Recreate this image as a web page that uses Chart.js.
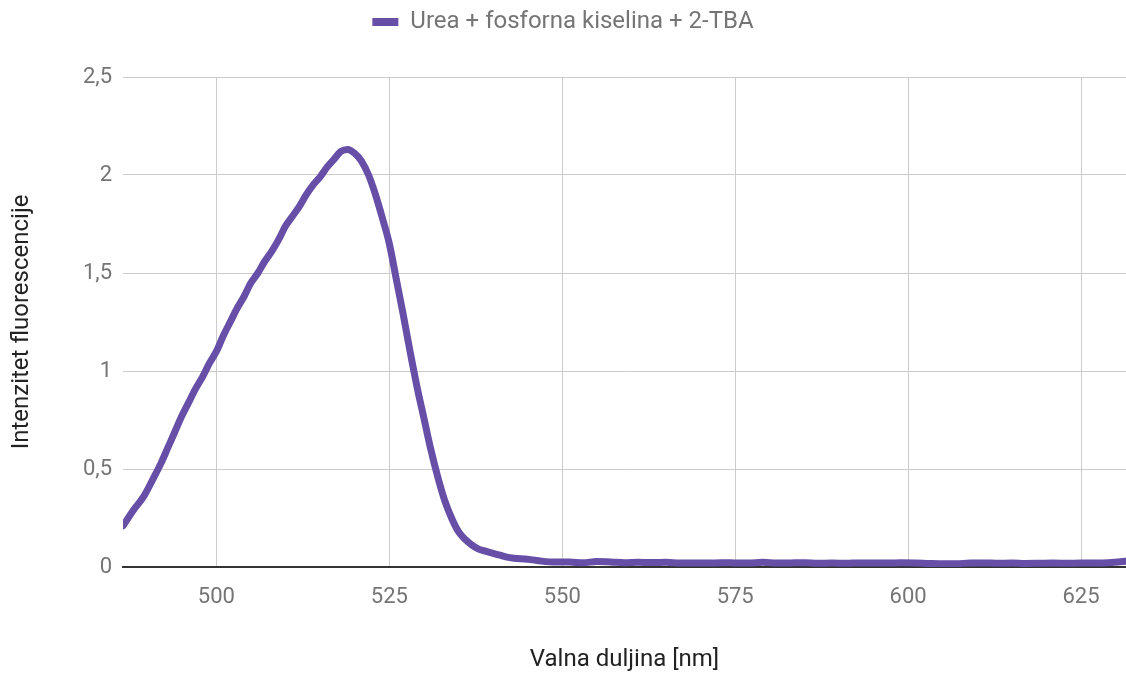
<!DOCTYPE html>
<html lang="hr">
<head>
  <meta charset="UTF-8">
  <title>Intenzitet fluorescencije</title>
  <style>
    html, body { margin: 0; padding: 0; background: #fff; }
    .chart-container { width: 1126px; height: 675px; }
  </style>
  <script src="https://cdn.jsdelivr.net/npm/chart.js"></script>
</head>
<body>
  <div class="chart-container">
    <canvas id="spectrumChart"></canvas>
  </div>

  <script>
    // wavelengths [nm] and measured intensity
    const wavelengths = [
      486.5, 488, 489.5, 491, 492, 493, 494, 495, 496, 497, 498, 499, 500,
      501, 502, 503, 504, 505, 506, 507, 508, 509, 510, 511, 512, 513, 514,
      515, 516, 517, 518, 519, 520, 521, 522, 523, 524, 525, 526, 527, 528,
      529, 530, 531, 532, 533, 534, 535, 536, 537, 538, 539, 540, 541, 542,
      543, 545, 547, 549, 551, 553, 555, 557, 559, 561, 563, 565, 567, 569,
      571, 573, 575, 577, 579, 581, 583, 585, 587, 589, 591, 593, 595, 597,
      599, 601, 603, 605, 607, 609, 611, 613, 615, 617, 619, 621, 623, 625,
      627, 629, 631, 631.5
    ];
    const intensity = [
      0.21, 0.29, 0.36, 0.46, 0.53, 0.61, 0.69, 0.77, 0.84, 0.91, 0.97, 1.04, 1.10,
      1.18, 1.25, 1.32, 1.38, 1.45, 1.50, 1.56, 1.61, 1.67, 1.74, 1.79, 1.84, 1.90, 1.95,
      1.99, 2.04, 2.08, 2.12, 2.13, 2.11, 2.07, 2.00, 1.90, 1.78, 1.65, 1.47, 1.29, 1.10,
      0.92, 0.76, 0.60, 0.46, 0.34, 0.25, 0.18, 0.14, 0.11, 0.09, 0.08, 0.07, 0.06, 0.05,
      0.045, 0.04, 0.03, 0.025, 0.025, 0.022, 0.028, 0.026, 0.022, 0.024, 0.023, 0.024, 0.02, 0.021,
      0.02, 0.022, 0.021, 0.02, 0.024, 0.02, 0.021, 0.022, 0.019, 0.02, 0.019, 0.021, 0.02, 0.02,
      0.022, 0.021, 0.018, 0.016, 0.017, 0.02, 0.021, 0.019, 0.02, 0.018, 0.019, 0.02, 0.019, 0.02,
      0.02, 0.022, 0.028, 0.03
    ];
    const xTicks = [500, 525, 550, 575, 600, 625];
    const yTicks = [0, 0.5, 1, 1.5, 2, 2.5];
    const seriesLabel = 'Urea + fosforna kiselina + 2-TBA';

    const lineColor = '#674ea7';
    const gridColor = '#cccccc';
    const labelColor = '#757575';

    Chart.defaults.font.family = 'Roboto, "Noto Sans", sans-serif';
    Chart.defaults.font.size = 22;
    Chart.defaults.color = labelColor;

    // push the plot area down below the legend
    const legendMargin = {
      id: 'legendMargin',
      beforeInit(chart) {
        const fit = chart.legend.fit;
        chart.legend.fit = function () {
          fit.bind(chart.legend)();
          this.height += 33;
        };
      }
    };

    const ctx = document.getElementById('spectrumChart').getContext('2d');
    new Chart(ctx, {
      type: 'line',
      data: {
        datasets: [{
          label: seriesLabel,
          data: wavelengths.map((w, i) => ({ x: w, y: intensity[i] })),
          borderColor: lineColor,
          backgroundColor: lineColor,
          borderWidth: 7,
          pointRadius: 0,
          cubicInterpolationMode: 'monotone',
          borderJoinStyle: 'round',
          borderCapStyle: 'round'
        }]
      },
      options: {
        responsive: true,
        maintainAspectRatio: false,
        animation: false,
        layout: { padding: { top: 0, left: 0, right: 0, bottom: 0 } },
        plugins: {
          legend: {
            labels: {
              boxWidth: 26,
              boxHeight: 8,
              padding: 10,
              color: labelColor,
              font: { size: 24 },
              generateLabels: chart =>
                Chart.defaults.plugins.legend.labels.generateLabels(chart)
                  .map(l => ({ ...l, lineWidth: 0, fillStyle: lineColor }))
            }
          },
          tooltip: { enabled: false }
        },
        scales: {
          x: {
            type: 'linear',
            min: 486.5,
            max: 631.5,
            afterBuildTicks: s => { s.ticks = xTicks.map(v => ({ value: v })); },
            afterFit: s => { s.height = 108; },
            grid: { color: gridColor, drawTicks: false },
            border: { display: true, color: '#333333', width: 2 },
            ticks: { padding: 17, color: labelColor },
            title: {
              display: true,
              text: 'Valna duljina [nm]',
              color: '#222222',
              font: { size: 24 },
              padding: { top: 1, bottom: 1 }
            }
          },
          y: {
            min: 0,
            max: 2.5,
            afterBuildTicks: s => { s.ticks = yTicks.map(v => ({ value: v })); },
            afterFit: s => { s.width = 123; },
            grid: {
              color: c => (c.tick && c.tick.value === 0 ? '#333333' : gridColor),
              drawTicks: false
            },
            border: { display: false },
            ticks: {
              padding: 11,
              color: labelColor,
              callback: v => String(v).replace('.', ',')
            },
            title: {
              display: true,
              text: 'Intenzitet fluorescencije',
              color: '#222222',
              font: { size: 24 },
              padding: { top: 8, bottom: 4 }
            }
          }
        }
      },
      plugins: [legendMargin]
    });
  </script>
</body>
</html>
